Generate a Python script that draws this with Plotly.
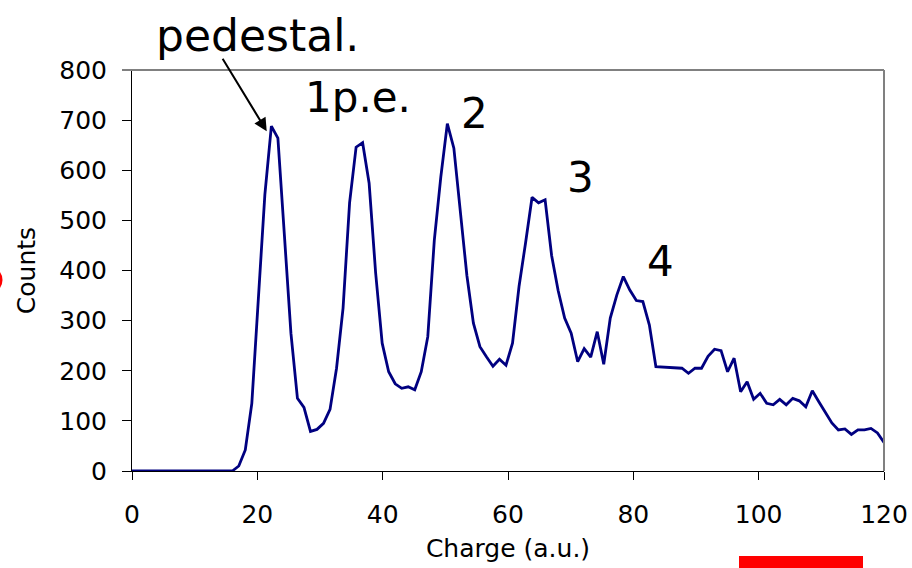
import plotly.graph_objects as go

# Charge spectrum: channel charge (a.u.) and counts per channel
charge = [0.0, 16.00, 17.04, 18.08, 19.12, 20.16, 21.20, 22.24, 23.28, 24.32, 25.36,
          26.40, 27.44, 28.48, 29.52, 30.56, 31.60, 32.64, 33.68, 34.72, 35.76,
          36.80, 37.84, 38.88, 39.92, 40.96, 42.00, 43.04, 44.08, 45.12, 46.16,
          47.20, 48.24, 49.28, 50.32, 51.36, 52.40, 53.44, 54.48, 55.52, 56.56,
          57.60, 58.64, 59.68, 60.72, 61.76, 62.80, 63.84, 64.88, 65.92, 66.96,
          68.00, 69.04, 70.08, 71.12, 72.16, 73.20, 74.24, 75.28, 76.32, 77.36,
          78.40, 79.44, 80.48, 81.52, 82.56, 83.60, 84.64, 85.68, 86.72, 87.76,
          88.80, 89.84, 90.88, 91.92, 92.96, 94.00, 95.04, 96.08, 97.12, 98.16,
          99.20, 100.24, 101.28, 102.32, 103.36, 104.40, 105.44, 106.48, 107.52, 108.56,
          109.60, 110.64, 111.68, 112.72, 113.76, 114.80, 115.84, 116.88, 117.92, 118.96,
          120.00]
counts = [0, 0, 10, 42, 135, 345, 551, 688, 664, 470, 275,
          145, 127, 79, 83, 95, 123, 205, 325, 535, 646,
          655, 574, 395, 255, 198, 174, 165, 168, 162, 198,
          268, 460, 587, 693, 644, 520, 390, 295, 248, 228,
          209, 223, 211, 255, 368, 455, 546, 535, 541, 430,
          360, 305, 275, 218, 244, 227, 278, 213, 305, 351,
          388, 361, 340, 338, 291, 208, 207, 207, 205, 205,
          195, 205, 205, 229, 243, 240, 198, 225, 158, 178,
          143, 155, 135, 132, 143, 132, 145, 140, 128, 160,
          138, 116, 96, 82, 84, 73, 82, 82, 85, 76,
          57]

x_ticks = [0, 20, 40, 60, 80, 100, 120]
y_ticks = [0, 100, 200, 300, 400, 500, 600, 700, 800]

# Peak labels: (text, charge, counts)
peak_labels = ["1p.e.", "2", "3", "4"]
peak_x = [36.0, 54.7, 71.5, 84.3]
peak_y = [745, 713, 586, 418]

FONT = "DejaVu Sans, Verdana, sans-serif"

fig = go.Figure()
fig.add_trace(go.Scatter(
    x=charge, y=counts, mode="lines",
    line=dict(color="#000080", width=2.8),
    hoverinfo="skip", showlegend=False,
))

for t, px, py in zip(peak_labels, peak_x, peak_y):
    fig.add_annotation(x=px, y=py, xref="x", yref="y", text=t, showarrow=False,
                       xanchor="center", yanchor="middle",
                       font=dict(family=FONT, size=42, color="black"))

# "pedestal." label above the plot, with an arrow pointing at the first peak
fig.add_annotation(x=20.0, y=1.087, xref="x", yref="paper", text="pedestal.",
                   showarrow=False, xanchor="center", yanchor="middle",
                   font=dict(family=FONT, size=44, color="black"))
fig.add_annotation(x=21.5, y=678, xref="x", yref="y", text="", showarrow=True,
                   ax=-45, ay=-74, arrowhead=2, arrowsize=1.3, arrowwidth=2,
                   arrowcolor="black")

W, H = 912, 568
L, R, T, B = 132, 28, 70, 97
pw, ph = W - L - R, H - T - B

def px_x(p):
    return (p - L) / pw

def px_y(p):
    return (H - B - p) / ph

shapes = [
    # gray top and right frame lines
    dict(type="line", xref="paper", yref="paper", x0=px_x(122), x1=1, y0=1, y1=1,
         line=dict(color="#808080", width=2)),
    dict(type="line", xref="paper", yref="paper", x0=1, x1=1, y0=0, y1=1,
         line=dict(color="#808080", width=2)),
    # red marks at the edges of the slide
    dict(type="circle", xref="paper", yref="paper",
         x0=px_x(-25.5), x1=px_x(2.5), y0=px_y(294), y1=px_y(266),
         fillcolor="#ff0000", line=dict(width=0)),
    dict(type="rect", xref="paper", yref="paper",
         x0=px_x(739), x1=px_x(863), y0=px_y(575), y1=px_y(556),
         fillcolor="#ff0000", line=dict(width=0)),
]

fig.update_layout(
    width=W, height=H,
    margin=dict(l=L, r=R, t=T, b=B, pad=0),
    paper_bgcolor="white", plot_bgcolor="white",
    font=dict(family=FONT, size=25, color="black"),
    shapes=shapes,
    xaxis=dict(
        range=[0, 120], tickvals=x_ticks, ticks="outside", ticklen=8,
        tickcolor="black", tickwidth=1, showline=True, linecolor="black",
        linewidth=1, showgrid=False, zeroline=False, automargin=False,
        tickfont=dict(family=FONT, size=25), ticklabelstandoff=13,
        title=dict(text="Charge (a.u.)", font=dict(family=FONT, size=25), standoff=11),
    ),
    yaxis=dict(
        range=[0, 800], tickvals=y_ticks, ticks="outside", ticklen=9,
        tickcolor="black", tickwidth=1, showline=True, linecolor="black",
        linewidth=1, showgrid=False, zeroline=False, automargin=False,
        tickfont=dict(family=FONT, size=25), ticklabelstandoff=10,
        title=dict(text="Counts", font=dict(family=FONT, size=25), standoff=16),
    ),
)

fig.write_html("out.html")
